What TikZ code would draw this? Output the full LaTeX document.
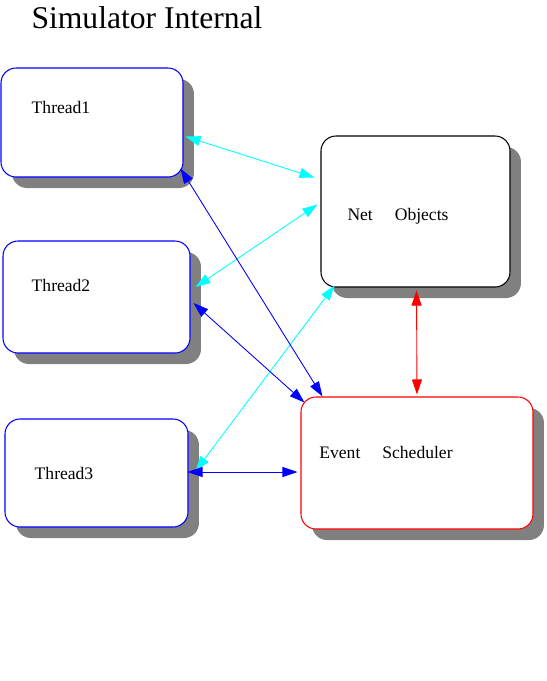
\documentclass[tikz,border=0pt]{standalone}
\usepackage{fontspec}
\setmainfont{Liberation Serif}
\usetikzlibrary{arrows.meta,shadows,fit}
\definecolor{linkcyan}{RGB}{0,255,255}
\definecolor{linkblue}{RGB}{0,0,255}
\definecolor{linkred}{RGB}{255,0,0}

\begin{document}
\begin{tikzpicture}[
    x=0.02cm, y=-0.02cm,
    box/.style={draw,fill=white,rounded corners=0.3cm,inner sep=0pt,line width=0.6pt,
      drop shadow={shadow xshift=0.22cm,shadow yshift=-0.22cm,fill=black!50,opacity=1}},
    lbl/.style={inner sep=0pt,font=\fontsize{10}{12}\selectfont},
    arr/.style={{Triangle[length=0.3cm,width=0.2cm]}-{Triangle[length=0.3cm,width=0.2cm]},line width=0.5pt}
]
\useasboundingbox (0,0) rectangle (547,681);
\node[inner sep=0pt,font=\fontsize{18}{22}\selectfont] (title) at (147,18) {Simulator Internal};

% the five blocks
\node[box,draw=linkblue,fit={(1,68) (183,177)}] (thread1) {};
\node[box,draw=linkblue,fit={(3,241) (190,353)}] (thread2) {};
\node[box,draw=linkblue,fit={(5,419) (188,527)}] (thread3) {};
\node[box,fit={(321,136) (510,287)}] (netobj) {};
\node[box,draw=linkred,fit={(301,397) (533,529)}] (sched) {};

\node[lbl] (thread1lbl) at (61,107) {Thread1};
\node[lbl] (thread2lbl) at (61,285) {Thread2};
\node[lbl] (thread3lbl) at (64,473) {Thread3};
\node[lbl] (netobjlbl) at (398,216) {Net\quad\ Objects};
\node[lbl] (schedlbl) at (386,452) {Event\quad\ Scheduler};

% links
\draw[arr,linkcyan] ([shift={(2,14)}]thread1.east) -- ([shift={(-6,-34)}]netobj.west);
\draw[arr,linkcyan] ([shift={(-3,-7)}]netobj.west) -- ([shift={(5,-10)}]thread2.east);
\draw[arr,linkcyan] ([shift={(14,-2)}]netobj.south west) -- ([shift={(7,-2)}]thread3.east);
\draw[arr,linkblue] ([shift={(-3,-9)}]thread1.south east) -- ([shift={(22,0)}]sched.north west);
\draw[arr,linkblue] ([shift={(3,6)}]thread2.east) -- ([shift={(4,6)}]sched.north west);
\draw[arr,linkblue] ([shift={(-1,-1)}]thread3.east) -- ([shift={(-3,9)}]sched.west);
\draw[arr,linkred] ([shift={(1,3)}]netobj.south) -- ([shift={(0,-2)}]sched.north);
\end{tikzpicture}
\end{document}
